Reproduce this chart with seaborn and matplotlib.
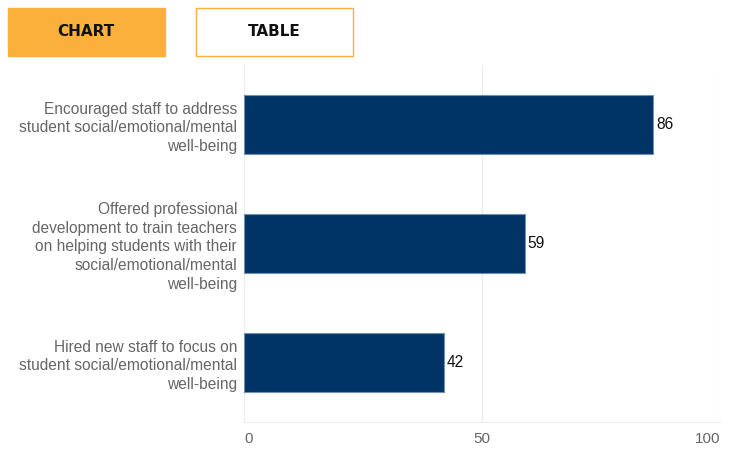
import pandas as pd
import matplotlib.pyplot as plt
from matplotlib.patches import Rectangle
import seaborn as sns

categories = [
    "Encouraged staff to address\nstudent social/emotional/mental\nwell-being",
    "Offered professional\ndevelopment to train teachers\non helping students with their\nsocial/emotional/mental\nwell-being",
    "Hired new staff to focus on\nstudent social/emotional/mental\nwell-being",
]
values = [86, 59, 42]
x_ticks = [0, 50, 100]

df = pd.DataFrame({"category": categories, "value": values})

sns.set_style("white")
plt.rcParams["font.family"] = ["Liberation Sans", "DejaVu Sans"]

fig = plt.figure(figsize=(7.36, 4.54), dpi=100)
ax = fig.add_axes([244 / 736, 1 - 422 / 454, 476 / 736, 357 / 454])

sns.barplot(data=df, x="value", y="category", orient="h", color="#003366",
            saturation=1, width=0.5, edgecolor="#6f8fb3", linewidth=0.8, ax=ax)

ax.set_xlim(0, 100)
ax.set_ylim(2.5, -0.5)
ax.set_xticks(x_ticks)
ax.set_xticklabels([str(t) for t in x_ticks])
for lab, ha in zip(ax.get_xticklabels(), ["left", "center", "right"]):
    lab.set_ha(ha)
ax.tick_params(axis="x", length=0, pad=7, labelsize=11, labelcolor="#666666")
ax.tick_params(axis="y", length=0, pad=5, labelsize=11.2, labelcolor="#666666")
for lab in ax.get_yticklabels():
    lab.set_linespacing(1.33)
ax.set_xlabel("")
ax.set_ylabel("")
ax.grid(axis="x", color="#ececec", linewidth=0.8)
ax.set_axisbelow(True)
for s in ["top", "right", "left"]:
    ax.spines[s].set_visible(False)
ax.spines["bottom"].set_color("#ececec")
ax.spines["bottom"].set_linewidth(0.8)

for i, v in enumerate(values):
    ax.text(v + 0.6, i, str(v), va="center", ha="left", fontsize=11.2, color="#111111")

# tab buttons
fig.patches.append(Rectangle((8 / 736, 1 - 56 / 454), 157 / 736, 48 / 454,
                             transform=fig.transFigure, facecolor="#fbb03b",
                             edgecolor="#fbb03b", linewidth=1))
fig.patches.append(Rectangle((196 / 736, 1 - 56 / 454), 157 / 736, 48 / 454,
                             transform=fig.transFigure, facecolor="white",
                             edgecolor="#fbb03b", linewidth=1))
fig.text(86 / 736, 1 - 32 / 454, "CHART", ha="center", va="center",
         fontsize=11, fontweight="bold", family="DejaVu Sans", color="#111111")
fig.text(274 / 736, 1 - 32 / 454, "TABLE", ha="center", va="center",
         fontsize=11, fontweight="bold", family="DejaVu Sans", color="#111111")

fig.savefig("out.png", dpi=100)
